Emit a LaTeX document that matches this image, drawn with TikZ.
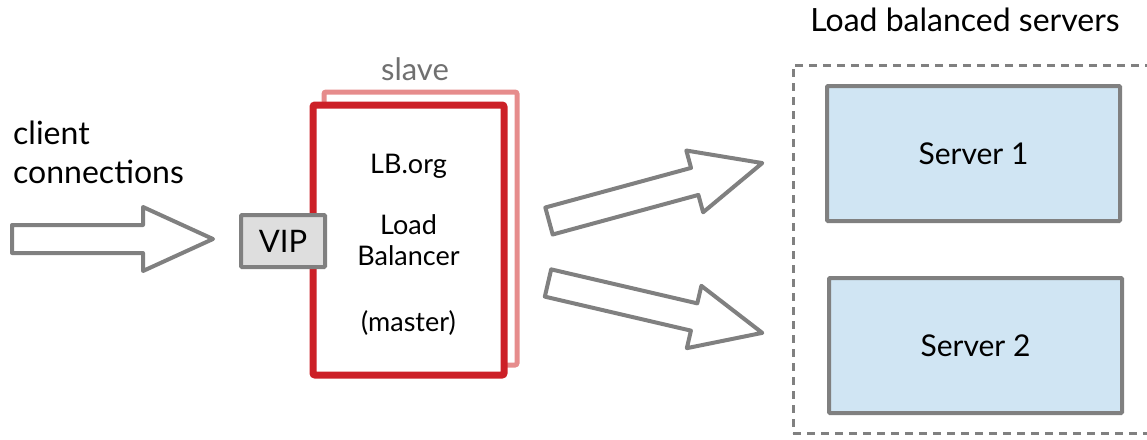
\documentclass[tikz,border=0pt]{standalone}
\usepackage{fontspec}
\setmainfont{Lato}
\definecolor{lbred}{RGB}{204,32,39}
\definecolor{lbpink}{RGB}{230,140,140}
\definecolor{edgegray}{RGB}{128,128,128}
\definecolor{slavegray}{RGB}{112,112,112}
\definecolor{vipgray}{RGB}{222,222,222}
\definecolor{serverblue}{RGB}{208,229,243}
\tikzset{
  pics/bigarrow/.style={code={
    \draw[draw=edgegray, fill=white, line width=4pt, line join=round]
      (0,-14) -- (#1-70,-14) -- (#1-70,-32) -- (#1,0) -- (#1-70,32) -- (#1-70,14) -- (0,14) -- cycle;
  }},
  serverbox/.style={draw=edgegray, fill=serverblue, line width=4pt, minimum width=293pt, minimum height=135pt,
    rounded corners=1pt, font=\fontsize{30}{36}\selectfont},
  lbtext/.style={anchor=base, font=\fontsize{27}{32}\selectfont}
}
\begin{document}
\begin{tikzpicture}[x=1pt,y=-1pt]
\clip (0,0) rectangle (1147,439);
\node[anchor=north west, align=left, inner sep=0pt, font=\fontsize{32}{39}\selectfont] (client) at (13,121) {client\\connections};
\pic (inarrow) at (12,239) {bigarrow=201};
\node[draw=lbpink, line width=5pt, minimum width=193pt, minimum height=273pt, rounded corners=2pt] (slave) at (420.5,228.5) {};
\node[anchor=base, text=slavegray, font=\fontsize{31}{36}\selectfont] (slavelabel) at (415,80) {slave};
\node[draw=lbred, fill=white, line width=7pt, minimum width=191pt, minimum height=270pt, rounded corners=2pt] (master) at (408.5,240) {};
\node[lbtext] (lborg) at (408.5,173) {LB.org};
\node[lbtext] (load) at (408.5,234) {Load};
\node[lbtext] (balancer) at (408.5,265) {Balancer};
\node[lbtext] (mastertext) at (408.5,331) {(master)};
\node[draw=edgegray, fill=vipgray, line width=4pt, minimum width=84pt, minimum height=52pt, rounded corners=1pt, font=\fontsize{31}{37}\selectfont] (vip) at (283,241) {VIP};
\pic[rotate=15.2] (uparrow) at (549,221) {bigarrow=221};
\pic[rotate=-13.1] (downarrow) at (548,283) {bigarrow=220};
\node[draw=edgegray, line width=3pt, dash pattern=on 8pt off 6pt, minimum width=367pt, minimum height=368pt] (pool) at (976.5,249) {};
\node[anchor=base, font=\fontsize{32}{38}\selectfont] (pooltitle) at (965,31) {Load balanced servers};
\node[serverbox] (server1) at (973.5,153.5) {Server 1};
\node[serverbox] (server2) at (975.5,345.5) {Server 2};
\end{tikzpicture}
\end{document}
